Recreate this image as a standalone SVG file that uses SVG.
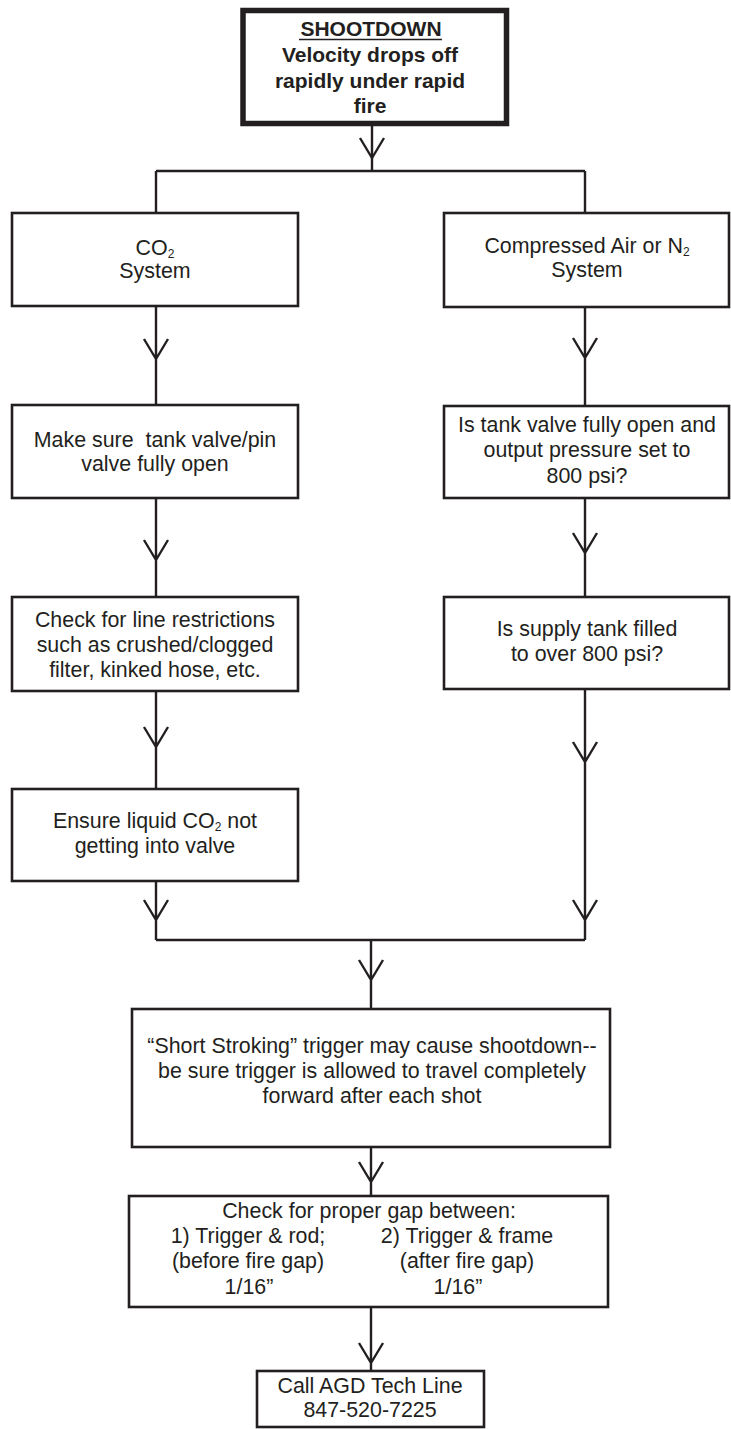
<svg xmlns="http://www.w3.org/2000/svg" width="731" height="1429" viewBox="0 0 731 1429">
<style>
.box{fill:#fff;stroke:#231f20;stroke-width:2.6}
.tbox{fill:#fff;stroke:#231f20;stroke-width:5.5}
.t{font-family:"Liberation Sans",Arial,sans-serif;font-size:21.4px;fill:#231f20;text-anchor:middle}
.b{font-weight:bold;font-size:21px}
.sub{font-size:12px}
.ln{fill:none;stroke:#231f20;stroke-width:2.4}
</style>
<rect width="731" height="1429" fill="#fff"/>
<g id="connectors" class="ln">
<path d="M372 126V171M156 171H585M156 171V213M585 171V213"/>
<path d="M360 138L372 158L384 138"/>
<path d="M156 306V405M144 339L156 359L168 339"/>
<path d="M156 498V597M144 540L156 560L168 540"/>
<path d="M156 691V789M144 727L156 747L168 727"/>
<path d="M156 881V940M144 900L156 920L168 900"/>
<path d="M585 307V406M573 338L585 358L597 338"/>
<path d="M585 498V597M573 533L585 553L597 533"/>
<path d="M585 689V940M573 742L585 762L597 742M573 900L585 920L597 900"/>
<path d="M156 940H585M371 940V1009M359 960L371 980L383 960"/>
<path d="M371 1147V1196M359 1162L371 1182L383 1162"/>
<path d="M371 1307V1371M359 1343L371 1363L383 1343"/>
</g>
<g id="n-shootdown">
<rect class="tbox" x="243" y="10.5" width="263.5" height="113"/>
<text class="t b" x="371" y="36">SHOOTDOWN</text>
<line x1="299" y1="39.5" x2="442" y2="39.5" stroke="#231f20" stroke-width="1.6"/>
<text class="t b" x="370" y="62">Velocity drops off</text>
<text class="t b" x="370" y="87.5">rapidly under rapid</text>
<text class="t b" x="370" y="113">fire</text>
</g>
<g id="n-co2">
<rect class="box" x="12" y="213" width="286" height="93"/>
<text class="t" x="155" y="255">CO<tspan class="sub" dy="3">2</tspan></text>
<text class="t" x="155" y="278">System</text>
</g>
<g id="n-air">
<rect class="box" x="444" y="213" width="285" height="94"/>
<text class="t" x="587" y="253">Compressed Air or N<tspan class="sub" dy="3">2</tspan></text>
<text class="t" x="587" y="277">System</text>
</g>
<g id="n-makesure">
<rect class="box" x="12" y="405" width="286" height="93"/>
<text class="t" x="155" y="447" xml:space="preserve">Make sure  tank valve/pin</text>
<text class="t" x="155" y="471">valve fully open</text>
</g>
<g id="n-istank">
<rect class="box" x="444" y="406" width="285" height="92"/>
<text class="t" x="587" y="432">Is tank valve fully open and</text>
<text class="t" x="587" y="457">output pressure set to</text>
<text class="t" x="587" y="483">800 psi?</text>
</g>
<g id="n-checkline">
<rect class="box" x="12" y="597" width="286" height="94"/>
<text class="t" x="155" y="627">Check for line restrictions</text>
<text class="t" x="155" y="652">such as crushed/clogged</text>
<text class="t" x="155" y="677">filter, kinked hose, etc.</text>
</g>
<g id="n-supply">
<rect class="box" x="444" y="597" width="285" height="92"/>
<text class="t" x="587" y="636">Is supply tank filled</text>
<text class="t" x="587" y="661">to over 800 psi?</text>
</g>
<g id="n-ensure">
<rect class="box" x="12" y="789" width="286" height="92"/>
<text class="t" x="155" y="828">Ensure liquid CO<tspan class="sub" dy="3">2</tspan><tspan dy="-3"> not</tspan></text>
<text class="t" x="155" y="853">getting into valve</text>
</g>
<g id="n-shortstroke">
<rect class="box" x="132" y="1009" width="478" height="138"/>
<text class="t" x="372" y="1053">“Short Stroking” trigger may cause shootdown--</text>
<text class="t" x="372" y="1078">be sure trigger is allowed to travel completely</text>
<text class="t" x="372" y="1103">forward after each shot</text>
</g>
<g id="n-gap">
<rect class="box" x="129" y="1196" width="479" height="111"/>
<text class="t" x="369" y="1218">Check for proper gap between:</text>
<text class="t" x="248" y="1243">1) Trigger &amp; rod;</text>
<text class="t" x="467" y="1243">2) Trigger &amp; frame</text>
<text class="t" x="248" y="1268">(before fire gap)</text>
<text class="t" x="467" y="1268">(after fire gap)</text>
<text class="t" x="249" y="1294">1/16”</text>
<text class="t" x="458" y="1294">1/16”</text>
</g>
<g id="n-call">
<rect class="box" x="257" y="1371" width="227" height="56"/>
<text class="t" x="370" y="1393">Call AGD Tech Line</text>
<text class="t" x="370" y="1417">847-520-7225</text>
</g>
</svg>
